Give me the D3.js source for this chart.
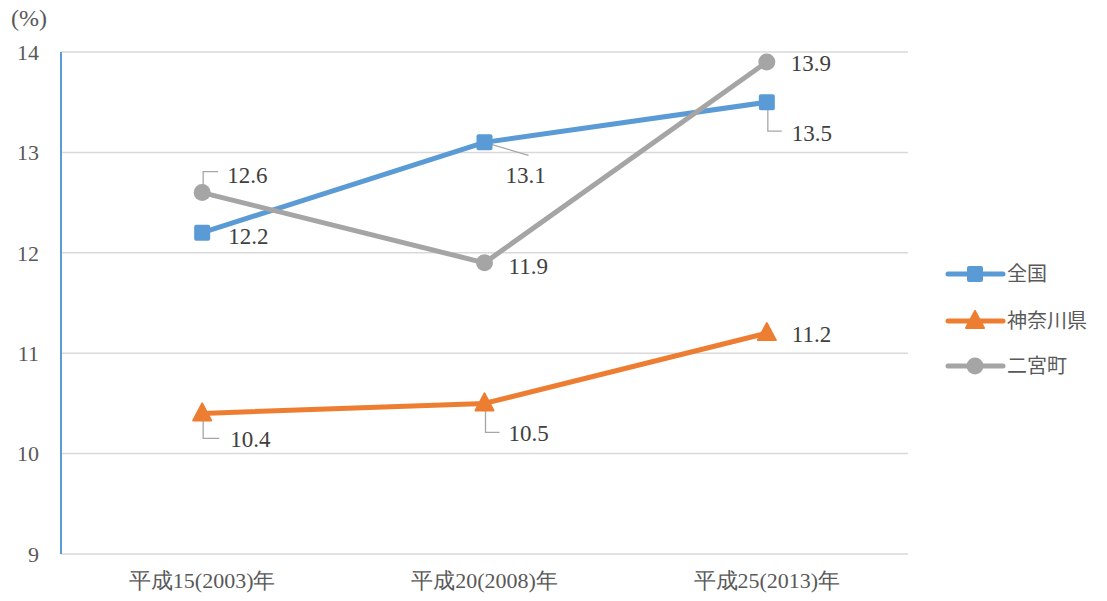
<!DOCTYPE html>
<html><head><meta charset="utf-8">
<script src="https://cdn.jsdelivr.net/npm/d3@7"></script>
<style>body{margin:0;background:#fff} .sf{font-family:"Liberation Serif","Times New Roman","DejaVu Serif",serif}</style>
</head><body><svg id="c" width="1107" height="601"></svg>
<script>
const categories = ["平成15(2003)年","平成20(2008)年","平成25(2013)年"];
const seriesNames = ["全国","神奈川県","二宮町"];
const zenkoku = [12.2, 13.1, 13.5];
const kanagawa = [10.4, 10.5, 11.2];
const ninomiya = [12.6, 11.9, 13.9];
const yTicks = [9,10,11,12,13,14];
const colors = ["#5b9bd5","#ed7d31","#a5a5a5"];

const svg = d3.select("#c");
const L=61, R=908, T=52, B=554;
const x = d3.scaleBand().domain(categories).range([L,R]);
const y = d3.scaleLinear().domain([9,14]).range([B,T]);
const cx = c => x(c)+x.bandwidth()/2;
const txtCol = "#595959";

svg.append("g").selectAll("line").data(yTicks).join("line")
  .attr("x1",L).attr("x2",R).attr("y1",d=>y(d)).attr("y2",d=>y(d))
  .attr("stroke","#d9d9d9").attr("stroke-width",1.5);
svg.append("line").attr("x1",L).attr("x2",L).attr("y1",T).attr("y2",B).attr("stroke","#5b9bd5").attr("stroke-width",2);
svg.append("g").selectAll("text").data(yTicks).join("text").attr("class","sf")
  .attr("x",39).attr("y",d=>y(d)).attr("dy","0.35em").attr("text-anchor","end")
  .attr("font-size",22).attr("fill",txtCol).text(d=>d);
svg.append("text").attr("class","sf").attr("x",11).attr("y",26).attr("font-size",24).attr("fill",txtCol).text("(%)");
svg.append("g").selectAll("text").data(categories).join("text").attr("class","sf")
  .attr("x",d=>cx(d)).attr("y",588).attr("text-anchor","middle")
  .attr("font-size",22).attr("fill",txtCol).text(d=>d);

const data = [zenkoku, kanagawa, ninomiya];
const line = d3.line().x((d,i)=>cx(categories[i])).y(d=>y(d));

function marker(g, k, px, py){
  if(k===0){
    g.append("rect").attr("x",px-8).attr("y",py-8).attr("width",16).attr("height",16).attr("rx",2).attr("fill",colors[0]);
  } else if(k===1){
    g.append("path").attr("d",`M${px},${py-10} L${px+9},${py+7} L${px-9},${py+7} Z`).attr("fill",colors[1]).attr("stroke",colors[1]).attr("stroke-width",2).attr("stroke-linejoin","round");
  } else {
    g.append("circle").attr("cx",px).attr("cy",py).attr("r",8.5).attr("fill",colors[2]);
  }
}

const lead = svg.append("g").attr("stroke","#a6a6a6").attr("stroke-width",1.3).attr("fill","none");
function P(s,i){return [cx(categories[i]), y(data[s][i])];}
let p;
p=P(2,0); lead.append("path").attr("d",`M${p[0]+1},${p[1]} V${p[1]-21} H${p[0]+16}`);
p=P(0,1); lead.append("path").attr("d",`M${p[0]},${p[1]} L${p[0]+44},${p[1]+13}`);
p=P(0,2); lead.append("path").attr("d",`M${p[0]+1},${p[1]} V${p[1]+29} H${p[0]+15}`);
p=P(1,0); lead.append("path").attr("d",`M${p[0]+1},${p[1]} V${p[1]+25} H${p[0]+17}`);
p=P(1,1); lead.append("path").attr("d",`M${p[0]+1},${p[1]} V${p[1]+29} H${p[0]+15}`);

[1,0,2].forEach(k=>{
  svg.append("path").datum(data[k]).attr("d",line).attr("fill","none")
    .attr("stroke",colors[k]).attr("stroke-width",5).attr("stroke-linejoin","round").attr("stroke-linecap","round");
  const g = svg.append("g");
  data[k].forEach((v,i)=>marker(g,k,cx(categories[i]),y(v)));
});

const lab = [
  [0,0,26,3],[0,1,21,33],[0,2,25,31],
  [1,0,28,26],[1,1,24,30],[1,2,25,1],
  [2,0,25,-18],[2,1,24,3],[2,2,24,1]
];
svg.append("g").selectAll("text").data(lab).join("text").attr("class","sf")
  .attr("x",d=>cx(categories[d[1]])+d[2]).attr("y",d=>y(data[d[0]][d[1]])+d[3]).attr("dy","0.35em")
  .attr("font-size",23).attr("fill","#404040")
  .text(d=>data[d[0]][d[1]].toFixed(1));

const lg = svg.append("g");
seriesNames.forEach((n,k)=>{
  const ly = [274,321,366][k];
  lg.append("line").attr("x1",948).attr("x2",1003).attr("y1",ly).attr("y2",ly).attr("stroke",colors[k]).attr("stroke-width",5).attr("stroke-linecap","round");
  marker(lg,k,975,ly);
  lg.append("text").attr("x",1007).attr("y",ly).attr("dy","0.35em").style("font-family","'Noto Sans CJK JP',sans-serif").attr("font-size",20).attr("fill",txtCol).text(n);
});
</script></body></html>
